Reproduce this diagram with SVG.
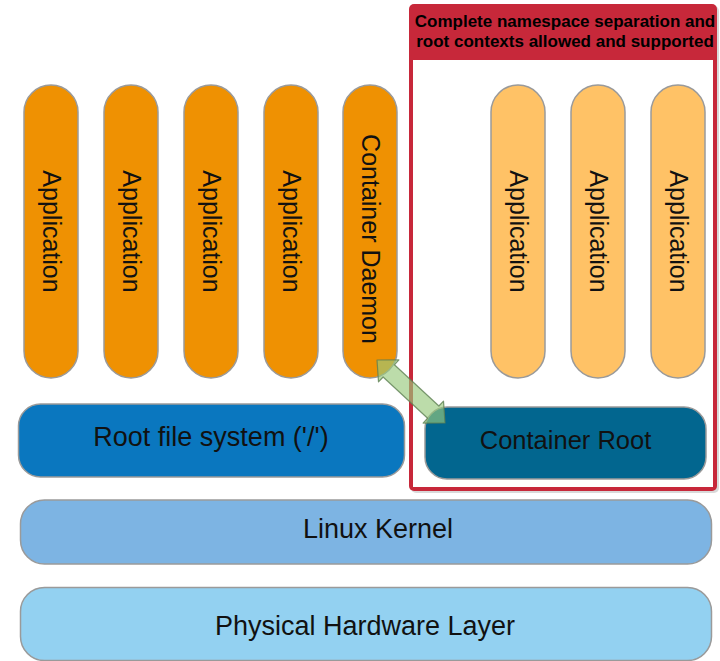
<svg xmlns="http://www.w3.org/2000/svg" width="720" height="661" viewBox="0 0 720 661">
<style>
text{font-family:"Liberation Sans",Arial,sans-serif;fill:#111}
.pill{stroke:#9a9a9a;stroke-width:1.5}
.dark{fill:#EF9102}
.light{fill:#FFC266}
.vt{font-size:25px;text-anchor:middle}
.ht{font-size:27px;text-anchor:middle}
.box{stroke:#9a9a9a;stroke-width:1.5}
.hdr{font-size:17px;font-weight:bold;text-anchor:middle;fill:#000}
</style>
<rect width="720" height="661" fill="#ffffff"/>
<g id="container-zone">
<rect x="411" y="6" width="308" height="487" rx="5" fill="#000" opacity="0.15"/>
<rect x="409" y="4" width="308" height="487" rx="5" fill="#C7283A"/>
<rect x="413" y="60" width="300" height="427" fill="#ffffff"/>
<text class="hdr" x="565" y="27">Complete namespace separation and</text>
<text class="hdr" x="565" y="47">root contexts allowed and supported</text>
</g>
<g id="app1"><rect class="pill dark" x="24" y="85" width="54" height="293" rx="27"/><text class="vt" transform="translate(51,231.5) rotate(90)" x="0" y="8">Application</text></g>
<g id="app2"><rect class="pill dark" x="104" y="85" width="54" height="293" rx="27"/><text class="vt" transform="translate(131,231.5) rotate(90)" x="0" y="8">Application</text></g>
<g id="app3"><rect class="pill dark" x="184" y="85" width="54" height="293" rx="27"/><text class="vt" transform="translate(211,231.5) rotate(90)" x="0" y="8">Application</text></g>
<g id="app4"><rect class="pill dark" x="264" y="85" width="54" height="293" rx="27"/><text class="vt" transform="translate(291,231.5) rotate(90)" x="0" y="8">Application</text></g>
<g id="daemon"><rect class="pill dark" x="343" y="85" width="54" height="293" rx="27"/><text class="vt" transform="translate(370,239) rotate(90)" x="0" y="8">Container Daemon</text></g>
<g id="capp1"><rect class="pill light" x="491" y="85" width="54" height="293" rx="27"/><text class="vt" transform="translate(518,231.5) rotate(90)" x="0" y="8">Application</text></g>
<g id="capp2"><rect class="pill light" x="571" y="85" width="54" height="293" rx="27"/><text class="vt" transform="translate(598,231.5) rotate(90)" x="0" y="8">Application</text></g>
<g id="capp3"><rect class="pill light" x="651" y="85" width="54" height="293" rx="27"/><text class="vt" transform="translate(678,231.5) rotate(90)" x="0" y="8">Application</text></g>
<g id="rootfs"><rect class="box" x="18.5" y="404" width="386" height="73" rx="22" fill="#0A77BF"/><text class="ht" x="211" y="446">Root file system ('/')</text></g>
<g id="container-root"><rect class="box" x="425" y="407" width="281" height="72" rx="22" fill="#02668F"/><text class="ht" style="font-size:25.5px" x="565.5" y="449">Container Root</text></g>
<g id="kernel"><rect class="box" x="20.5" y="500" width="691" height="64" rx="24" fill="#7DB4E3"/><text class="ht" x="378" y="538">Linux Kernel</text></g>
<g id="hardware"><rect class="box" x="20.5" y="587.5" width="691" height="73" rx="24" fill="#93D1F1"/><text class="ht" x="365" y="635">Physical Hardware Layer</text></g>
<g id="connectors">
<polygon points="377,360 398.9,359.9 394.4,364.8 438.9,406 443.5,401.1 445,423 423.1,423.1 427.6,418.2 383.1,377 378.5,381.9" fill="#98C97C" fill-opacity="0.65" stroke="#5E7F52" stroke-opacity="0.8" stroke-width="1.2" stroke-linejoin="round"/>
</g>
</svg>
